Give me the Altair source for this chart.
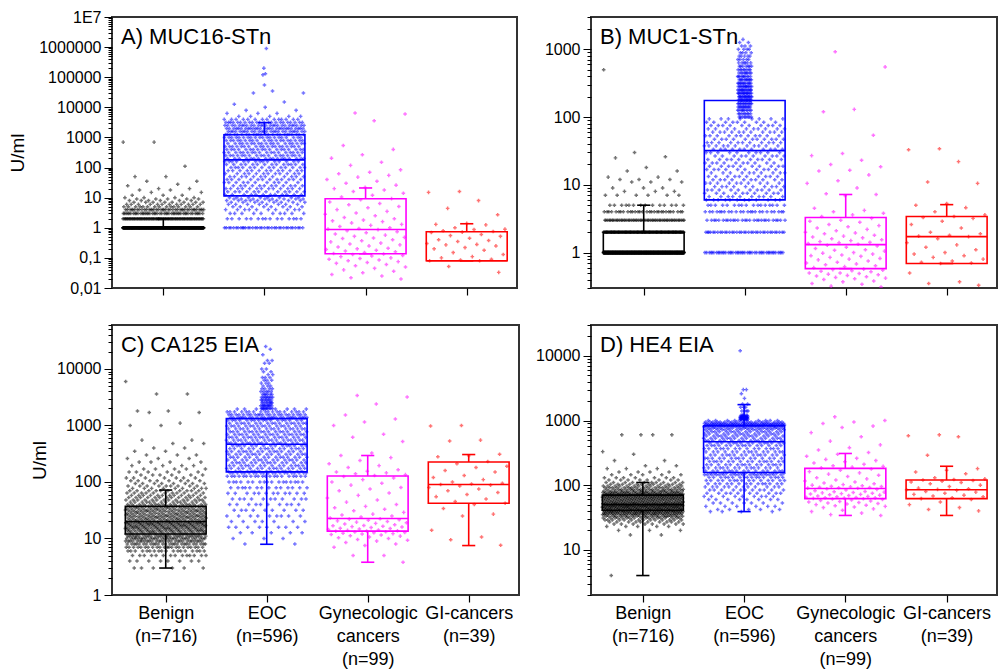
import json
import math
import altair as alt
import pandas as pd

FONT = "Liberation Sans"
CATS = ["Benign", "EOC", "Gynecologic cancers", "GI-cancers"]
NS = [716, 596, 99, 39]
COLORS = ["#000000", "#0000ff", "#ff00ff", "#ff0000"]

# ---------------- Panel A: MUC16-STn ----------------
A_YTICKS = [0.01, 0.1, 1, 10, 100, 1000, 10000, 100000, 1000000, 10000000]
A_YLABELS = ["0,01", "0,1", "1", "10", "100", "1000", "10000", "100000", "1000000", "1E7"]
A_Q1 = [1, 11.5, 0.137, 0.08]
A_MED = [1, 180, 0.88, 0.08]
A_Q3 = [1, 1230, 9.2, 0.74]
A_LO = [1, 11.5, 0.137, 0.08]
A_HI = [2, 3100, 21, 1.36]
A_BEN_V = [1, 2, 3, 4, 5, 6, 7, 8, 9, 10, 12, 15, 18, 20, 25, 28, 35, 50, 110, 700]
A_BEN_N = [473, 90, 45, 40, 15, 12, 8, 6, 5, 4, 3, 2, 2, 2, 1, 1, 2, 2, 1, 2]
A_EOC_V = [1, 2, 3, 4, 5, 6, 7, 8, 9, 10, 12.6, 15.8, 20, 25, 32, 40, 50, 63, 79, 100,
           126, 158, 200, 251, 316, 398, 501, 631, 794, 1000, 1259, 1585, 1995, 2512,
           3162, 3981, 5012, 6310, 7943, 10000, 12600, 15000, 30000, 35000]
A_EOC_N = [35, 15, 10, 10, 8, 8, 8, 9, 8, 8, 12, 12, 13, 12, 11, 12, 12, 12, 13, 14,
           14, 15, 17, 18, 18, 18, 19, 19, 20, 20, 24, 26, 28, 26, 22, 14, 5, 3, 2, 1, 1, 1, 2, 1]
A_EOC_COL = [55000, 120000, 130000, 200000, 900000]
A_GYN = [6500, 6000, 3600, 540, 400, 265, 205, 150, 118, 84, 70, 62, 55, 48, 40, 35, 30, 26, 22, 20,
         18, 16, 14, 12, 10.5, 9.3, 8.5, 7.2, 6.4, 5.8, 5.1, 4.6, 4.0, 3.5, 3.1, 2.8, 2.5, 2.2, 2.0,
         1.8, 1.7, 1.6, 1.45, 1.3, 1.2, 1.1, 1.0, 0.95, 0.9, 0.87, 0.8, 0.74, 0.68, 0.62, 0.57, 0.52,
         0.48, 0.46, 0.44, 0.4, 0.37, 0.34, 0.31, 0.29, 0.27, 0.25, 0.23, 0.21, 0.2, 0.19, 0.18, 0.17,
         0.16, 0.15, 0.14, 0.135, 0.13, 0.12, 0.115, 0.11, 0.1, 0.095, 0.09, 0.085, 0.08, 0.075, 0.07,
         0.066, 0.06, 0.055, 0.05, 0.045, 0.04, 0.036, 0.032, 0.028, 0.025, 0.022, 0.02]
A_GI = [16, 15, 8, 4.4, 2.7, 1.4, 1.3, 1.25, 1.0, 0.9, 0.88, 0.8, 0.75, 0.72, 0.7, 0.6, 0.55, 0.52,
        0.45, 0.4, 0.38, 0.35, 0.3, 0.28, 0.27, 0.25, 0.22, 0.2, 0.18, 0.15, 0.13, 0.11, 0.1, 0.09,
        0.085, 0.08, 0.08, 0.052, 0.033]

# ---------------- Panel B: MUC1-STn ----------------
B_YTICKS = [1, 10, 100, 1000]
B_YLABELS = ["1", "10", "100", "1000"]
B_Q1 = [1, 6, 0.58, 0.69]
B_MED = [1, 32, 1.31, 1.72]
B_Q3 = [2, 176, 3.3, 3.4]
B_LO = [1, 6, 0.58, 0.69]
B_HI = [5, 176, 7.2, 5.1]
B_BEN_V = [1, 2, 3, 4, 5, 7, 8, 9, 11, 12, 13, 16, 18, 25, 26, 30, 500]
B_BEN_N = [430, 160, 55, 30, 14, 6, 3, 3, 3, 3, 2, 2, 1, 1, 1, 1, 1]
B_EOC_V = [1, 2, 3, 4, 5, 6, 6.7, 7.5, 8.4, 9.4, 10.6, 11.9, 13.3, 15, 16.8, 18.8, 21, 23.7,
           26.6, 29.9, 33.5, 37.6, 42, 47, 53, 60, 67, 75, 84, 94]
B_EOC_N = [45, 35, 28, 24, 17, 12, 10, 10, 10, 10, 10, 10, 10, 10, 10, 10, 10, 10, 10, 10,
           11, 11, 11, 11, 11, 11, 10, 10, 9, 8]
B_EOC_COL_V = [100, 112, 126, 141, 158, 178, 200, 224, 251, 282, 316, 355, 398, 447, 501, 562,
               631, 708, 794, 891, 1000, 1122, 1259, 1400]
B_EOC_COL_N = [8, 8, 10, 12, 14, 16, 16, 16, 15, 14, 12, 11, 10, 9, 8, 7, 6, 5, 5, 4, 4, 3, 2, 1]
B_GYN = [920, 550, 130, 120, 54, 29, 27, 23, 20, 18.5, 16.4, 16, 14, 11.5, 10.5, 9, 7.4, 7.2, 6.9,
         4.5, 4.2, 4.0, 3.8, 3.6, 3.4, 3.2, 3.0, 2.9, 2.8, 2.6, 2.5, 2.4, 2.3, 2.2, 2.1, 2.0, 1.95,
         1.9, 1.8, 1.75, 1.7, 1.65, 1.6, 1.55, 1.5, 1.45, 1.42, 1.4, 1.36, 1.33, 1.28, 1.25, 1.2,
         1.15, 1.1, 1.08, 1.05, 1.0, 0.98, 0.95, 0.92, 0.9, 0.88, 0.85, 0.82, 0.8, 0.78, 0.75, 0.72,
         0.7, 0.68, 0.66, 0.64, 0.62, 0.6, 0.57, 0.56, 0.55, 0.54, 0.53, 0.52, 0.5, 0.5, 0.49, 0.48,
         0.47, 0.46, 0.45, 0.44, 0.43, 0.42, 0.41, 0.4, 0.38, 0.37, 0.35, 0.34, 0.32, 0.31]
B_GI = [34, 33, 22, 11, 10.5, 5.3, 5.0, 4.6, 4.0, 3.6, 3.4, 3.3, 3.2, 2.9, 2.6, 2.3, 2.0, 1.9, 1.8,
        1.75, 1.72, 1.6, 1.4, 1.3, 1.2, 1.1, 1.0, 0.95, 0.9, 0.85, 0.8, 0.75, 0.72, 0.7, 0.69, 0.5,
        0.37, 0.35, 0.33]

# ---------------- Panel C: CA125 EIA ----------------
C_YTICKS = [1, 10, 100, 1000, 10000]
C_YLABELS = ["1", "10", "100", "1000", "10000"]
C_Q1 = [12, 151, 13.5, 42]
C_MED = [20, 466, 22.6, 90]
C_Q3 = [37, 1320, 128, 226]
C_LO = [3, 7.9, 3.8, 7.5]
C_HI = [72, 1320, 294, 306]
C_BEN_V = [3, 4, 5, 6, 7, 8, 9, 10, 11, 12, 13, 14, 15, 16, 17, 18, 19, 20, 21.5, 23, 24.5, 26,
           28, 30, 32, 34.5, 37, 40, 44, 48, 53, 58, 64, 70, 77, 85, 94, 105, 118, 133, 150, 170,
           195, 225, 260, 300, 350, 400, 480, 550, 1000, 1100, 1700, 1800, 3600, 6000]
C_BEN_N = [6, 8, 14, 18, 22, 26, 28, 28, 29, 22, 22, 22, 22, 22, 22, 22, 22, 18, 18, 18, 18, 18,
           18, 18, 18, 18, 18, 16, 15, 14, 13, 12, 11, 10, 9, 9, 8, 8, 7, 6, 6, 5, 4, 4, 3, 3, 2,
           2, 2, 2, 2, 1, 2, 2, 2, 1]
C_EOC_V = [8, 10, 12.6, 15.8, 20, 25, 31.6, 40, 50, 63, 79, 100, 126, 145, 155, 174, 195, 219,
           245, 275, 309, 347, 389, 437, 490, 550, 617, 692, 776, 871, 977, 1096, 1230, 1380,
           1550, 1740, 1950]
C_EOC_N = [2, 3, 5, 8, 7, 9, 9, 10, 11, 12, 14, 17, 20, 21, 15, 15, 15, 15, 15, 15, 15, 15, 15,
           15, 17, 17, 17, 17, 17, 17, 17, 17, 17, 25, 22, 18, 8]
C_EOC_COL_V = [2000, 2240, 2510, 2820, 3160, 3550, 3980, 4470, 5010, 5620, 6310, 7080, 7940,
               8910, 10000, 12600, 14100, 17800, 22400, 25000]
C_EOC_COL_N = [10, 10, 9, 8, 8, 6, 5, 4, 3, 3, 3, 3, 2, 2, 2, 2, 2, 1, 1, 1]
C_GYN = [3400, 3200, 2400, 1530, 1300, 1150, 1000, 700, 620, 520, 325, 294, 270, 240, 210, 195,
         180, 165, 155, 150, 145, 140, 135, 130, 125, 118, 110, 100, 95, 88, 80, 75, 70, 64, 58,
         52, 48, 44, 40, 37, 35, 33, 31, 29, 27, 26, 25, 24, 23, 22.4, 22, 21.5, 21, 20.5, 20,
         19.5, 19, 18.5, 18, 17.5, 17, 16.8, 16.5, 16.2, 16, 15.6, 15.2, 15, 14.7, 14.4, 14.1,
         13.9, 13.7, 13.6, 13.4, 13.2, 13, 12.8, 12.6, 12.4, 12.2, 12, 11.8, 11.5, 11.2, 11, 10.6,
         10.3, 10, 9.6, 9.3, 9, 8.5, 8, 7.5, 7, 5, 5, 3.8]
C_GI = [1000, 980, 550, 530, 310, 290, 280, 230, 210, 190, 180, 160, 150, 130, 120, 110, 100, 95,
        92, 90, 88, 85, 80, 75, 70, 65, 60, 55, 50, 45, 42, 40, 34, 27, 25, 14, 10.6, 9.5, 7.6]

# ---------------- Panel D: HE4 EIA ----------------
D_YTICKS = [10, 100, 1000, 10000]
D_YLABELS = ["10", "100", "1000", "10000"]
D_Q1 = [41, 157, 62, 62]
D_MED = [50, 470, 89, 85]
D_Q3 = [70, 830, 182, 120]
D_LO = [4, 39, 34, 34]
D_HI = [110, 1760, 309, 196]
D_BEN_V = [4, 17, 20, 23, 25, 27, 29, 31, 33, 35, 37, 39, 41, 42.5, 44, 45.5, 47, 48.5, 50, 51.5,
           53, 55, 57, 59, 61, 63, 65, 67, 69, 71, 73, 77, 81, 86, 91, 97, 103, 110, 120, 130,
           145, 160, 180, 200, 240, 300, 330, 600]
D_BEN_N = [1, 2, 3, 5, 8, 10, 14, 18, 22, 26, 32, 38, 20, 22, 22, 23, 23, 23, 23, 23, 18, 18, 18,
           18, 18, 18, 18, 18, 18, 17, 28, 25, 22, 19, 16, 14, 12, 10, 8, 7, 5, 4, 3, 2, 2, 1, 1, 4]
D_EOC_V = [39, 42, 47, 53, 60, 67, 75, 84, 94, 105, 118, 132, 145, 152, 165, 185, 207, 232, 260,
           292, 327, 367, 411, 450, 490, 530, 575, 620, 670, 720, 760, 800, 830, 850, 900, 950, 1000]
D_EOC_N = [4, 5, 6, 7, 8, 9, 10, 11, 12, 14, 15, 17, 18, 13, 15, 15, 15, 15, 15, 15, 15, 15, 15,
           15, 15, 15, 15, 15, 16, 16, 17, 20, 20, 45, 30, 20, 10]
D_EOC_COL_V = [1050, 1100, 1150, 1200, 1400, 1600, 1800, 2200, 2600, 3000, 12000]
D_EOC_COL_N = [10, 14, 8, 6, 4, 3, 2, 1, 1, 2, 1]
D_GYN = [1140, 1000, 950, 900, 820, 780, 650, 560, 480, 420, 380, 350, 320, 300, 280, 260, 250,
         240, 230, 220, 210, 200, 195, 190, 185, 178, 170, 162, 155, 148, 142, 136, 130, 125, 120,
         116, 112, 108, 105, 102, 100, 98, 96, 95, 94, 93, 92, 91, 90, 89.5, 88, 86, 84, 82, 80,
         79, 78, 77, 76, 75, 74, 73, 72, 71, 70, 69, 68, 67, 66, 65, 64.5, 64, 63.5, 63, 62.5,
         61.5, 61, 60, 59, 58, 57, 56, 55, 54, 53, 52, 51, 50, 49, 48, 47, 46, 45, 43, 41, 39, 37,
         35, 34]
D_GI = [600, 580, 560, 290, 180, 170, 160, 150, 130, 125, 122, 120, 118, 115, 112, 110, 105, 100,
        95, 90, 88, 86, 85, 83, 80, 78, 75, 72, 70, 68, 66, 64, 62, 60, 55, 50, 45, 42, 40]

GOLD = 0.6180339887498949


def spread(values, counts, g, half, phase):
    """Place each point of a group at its value; x is a deterministic in-group spread."""
    rows = []
    i = 0
    for v, c in zip(values, counts):
        for _ in range(c):
            f = (i * GOLD + phase) % 1.0
            rows.append((g + (f - 0.5) * 2 * half, v, CATS[g - 1]))
            i += 1
    return rows


def ones(values):
    return [1] * len(values)


def minor_ticks(lo, hi):
    out = []
    k = math.floor(math.log10(lo))
    while 10.0 ** k <= hi:
        for m in range(2, 10):
            v = round(m * 10.0 ** k, 10)
            if lo <= v <= hi:
                out.append(v)
        k += 1
    return out


def x_label_expr():
    expr = "''"
    for i in range(len(CATS) - 1, -1, -1):
        lines = CATS[i].split(" ") + ["(n=%d)" % NS[i]]
        arr = "[" + ",".join("'%s'" % s for s in lines) + "]"
        expr = "datum.value === %d ? %s : %s" % (i + 1, arr, expr)
    return expr


def y_label_expr(majors, labels):
    expr = "''"
    for v, lab in reversed(list(zip(majors, labels))):
        expr = "datum.value === %s ? '%s' : %s" % (json.dumps(v), lab, expr)
    return expr


def panel(rows, q1, med, q3, lo, hi, xdom, ydom, majors, labels, title_text,
          ytitle, title_x, show_x_labels, w, h):
    pts = pd.DataFrame(rows, columns=["xpos", "val", "grp"])
    box = pd.DataFrame({"g": [1, 2, 3, 4], "grp": CATS, "q1": q1, "med": med,
                        "q3": q3, "lo": lo, "hi": hi})
    box["xl"] = box["g"] - 0.4
    box["xr"] = box["g"] + 0.4
    box["cl"] = box["g"] - 0.065
    box["cr"] = box["g"] + 0.065

    xs = alt.Scale(domain=xdom, nice=False, zero=False)
    ys = alt.Scale(type="log", domain=ydom, nice=False)
    xkw = dict(values=[1, 2, 3, 4], tickSize=7, tickColor="black", tickWidth=1.2,
               domain=False, grid=False, labels=show_x_labels, labelFont=FONT,
               labelFontSize=18, labelColor="black", labelLineHeight=23, labelPadding=2,
               labelOverlap=False, labelFlush=False, labelBaseline="top", labelAlign="center")
    if show_x_labels:
        xkw["labelExpr"] = x_label_expr()
    xa = alt.Axis(**xkw)
    mins = minor_ticks(ydom[0], ydom[1])
    test = "indexof(%s, datum.value) >= 0" % json.dumps(majors)
    ykw = dict(values=sorted(majors + mins), labelExpr=y_label_expr(majors, labels),
               tickSize={"condition": {"test": test, "value": 8}, "value": 4},
               tickColor="black", tickWidth=1, domain=False, grid=False,
               labelFont=FONT, labelFontSize=16, labelColor="black", labelPadding=3,
               labelOverlap=False, labelFlush=False)
    if ytitle:
        ykw.update(titleFont=FONT, titleFontSize=19, titleFontWeight="normal",
                   titleColor="black", titleX=title_x, titleY=h / 2, titleAngle=270,
                   titleBaseline="bottom", titleAlign="center")
    ya = alt.Axis(**ykw)
    cs = alt.Scale(domain=CATS, range=COLORS)

    def X(f):
        return alt.X(f, scale=xs, axis=xa, title=None)

    def Y(f):
        return alt.Y(f, scale=ys, axis=ya, title=ytitle)

    col = alt.Color("grp:N", scale=cs, legend=None)

    points = alt.Chart(pts).mark_point(shape="cross", filled=True, size=13, opacity=0.55,
                                       clip=True).encode(x=X("xpos:Q"), y=Y("val:Q"), color=col)
    base = alt.Chart(box)
    rect = base.mark_rect(fillOpacity=0, strokeWidth=1.6).encode(
        x=X("xl:Q"), x2="xr:Q", y=Y("q1:Q"), y2="q3:Q",
        stroke=alt.Stroke("grp:N", scale=cs, legend=None))
    median = base.mark_rule(strokeWidth=1.6).encode(x=X("xl:Q"), x2="xr:Q", y=Y("med:Q"), color=col)
    wh_hi = base.mark_rule(strokeWidth=1.6).encode(x=X("g:Q"), y=Y("q3:Q"), y2="hi:Q", color=col)
    cap_hi = base.mark_rule(strokeWidth=1.6).encode(x=X("cl:Q"), x2="cr:Q", y=Y("hi:Q"), color=col)
    wh_lo = base.mark_rule(strokeWidth=1.6).encode(x=X("g:Q"), y=Y("lo:Q"), y2="q1:Q", color=col)
    cap_lo = base.mark_rule(strokeWidth=1.6).encode(x=X("cl:Q"), x2="cr:Q", y=Y("lo:Q"), color=col)
    title = alt.Chart(pd.DataFrame({"t": [title_text]})).mark_text(
        align="left", baseline="alphabetic", font=FONT, fontSize=22, color="black").encode(
        text="t:N", x=alt.value(9), y=alt.value(27))
    return alt.layer(points, rect, median, wh_hi, cap_hi, wh_lo, cap_lo, title).properties(
        width=w, height=h)


rows_a = (spread(A_BEN_V, A_BEN_N, 1, 0.4, 0.11) + spread(A_EOC_V, A_EOC_N, 2, 0.4, 0.23)
          + spread(A_EOC_COL, ones(A_EOC_COL), 2, 0.02, 0.5)
          + spread(A_GYN, ones(A_GYN), 3, 0.4, 0.37) + spread(A_GI, ones(A_GI), 4, 0.4, 0.41))
rows_b = (spread(B_BEN_V, B_BEN_N, 1, 0.4, 0.11) + spread(B_EOC_V, B_EOC_N, 2, 0.4, 0.23)
          + spread(B_EOC_COL_V, B_EOC_COL_N, 2, 0.07, 0.5)
          + spread(B_GYN, ones(B_GYN), 3, 0.4, 0.37) + spread(B_GI, ones(B_GI), 4, 0.4, 0.41))
rows_c = (spread(C_BEN_V, C_BEN_N, 1, 0.4, 0.11) + spread(C_EOC_V, C_EOC_N, 2, 0.4, 0.23)
          + spread(C_EOC_COL_V, C_EOC_COL_N, 2, 0.06, 0.5)
          + spread(C_GYN, ones(C_GYN), 3, 0.4, 0.37) + spread(C_GI, ones(C_GI), 4, 0.4, 0.41))
rows_d = (spread(D_BEN_V, D_BEN_N, 1, 0.4, 0.11) + spread(D_EOC_V, D_EOC_N, 2, 0.4, 0.23)
          + spread(D_EOC_COL_V, D_EOC_COL_N, 2, 0.04, 0.5)
          + spread(D_GYN, ones(D_GYN), 3, 0.4, 0.37) + spread(D_GI, ones(D_GI), 4, 0.4, 0.41))

pa = panel(rows_a, A_Q1, A_MED, A_Q3, A_LO, A_HI, [0.4927, 4.497], [0.01, 10000000],
           A_YTICKS, A_YLABELS, "A) MUC16-STn", "U/ml", -85, False, 405, 271)
pb = panel(rows_b, B_Q1, B_MED, B_Q3, B_LO, B_HI, [0.478, 4.498], [0.3, 3000],
           B_YTICKS, B_YLABELS, "B) MUC1-STn", None, 0, False, 406, 271)
pc = panel(rows_c, C_Q1, C_MED, C_Q3, C_LO, C_HI, [0.468, 4.498], [1, 60000],
           C_YTICKS, C_YLABELS, "C) CA125 EIA", "U/ml", -63, True, 407, 270)
pd_ = panel(rows_d, D_Q1, D_MED, D_Q3, D_LO, D_HI, [0.488, 4.498], [2, 30000],
            D_YTICKS, D_YLABELS, "D) HE4 EIA", None, 0, True, 406, 270)

chart = alt.concat(pa, pb, pc, pd_, columns=2, spacing={"row": 37, "column": 72},
                   bounds="flush").properties(
    padding={"left": 7, "top": 8, "right": 0, "bottom": 0},
    background="white",
).configure_view(stroke="#333333", strokeWidth=2)

chart.save("out.html", embed_options={"renderer": "svg", "actions": False})
